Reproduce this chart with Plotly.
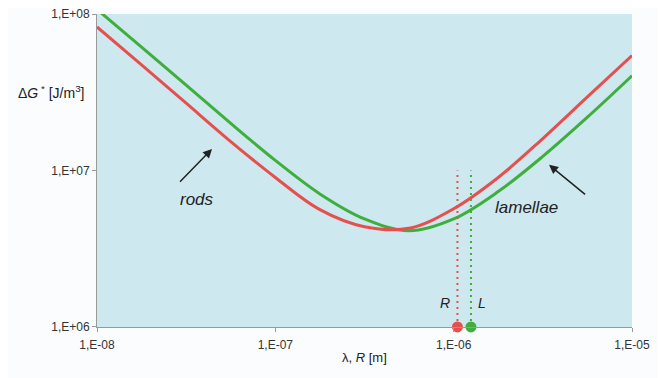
import plotly.graph_objects as go

# --- data ---
lam_rods = [1.000e-8, 1.778e-8, 3.162e-8, 5.623e-8, 1.000e-7, 1.778e-7, 3.162e-7,
            5.623e-7, 1.000e-6, 1.778e-6, 3.162e-6, 5.623e-6, 1.000e-5]
dG_rods = [8.26e7, 4.73e7, 2.69e7, 1.53e7, 9.02e6, 5.62e6, 4.37e6,
           4.27e6, 5.69e6, 9.02e6, 1.60e7, 2.95e7, 5.43e7]

lam_lam = [1.000e-8, 1.778e-8, 3.162e-8, 5.623e-8, 1.000e-7, 1.778e-7, 3.162e-7,
           5.623e-7, 1.000e-6, 1.778e-6, 3.162e-6, 5.623e-6, 1.000e-5]
dG_lam = [1.07e8, 6.14e7, 3.51e7, 2.00e7, 1.16e7, 7.08e6, 4.90e6,
          4.12e6, 4.90e6, 7.33e6, 1.23e7, 2.19e7, 4.03e7]

R_opt = 1.05e-6
L_opt = 1.25e-6
marker_y = [1e6, 1e7]

x_ticks = [1e-8, 1e-7, 1e-6, 1e-5]
x_ticktext = ["1,E-08", "1,E-07", "1,E-06", "1,E-05"]
y_ticks = [1e6, 1e7, 1e8]
y_ticktext = ["1,E+06", "1,E+07", "1,E+08"]

RED = "#e5504f"
GREEN = "#3fae3c"
FONT = "Liberation Sans, Arial, sans-serif"

fig = go.Figure()

fig.add_trace(go.Scatter(x=lam_lam, y=dG_lam, mode="lines",
                         line=dict(color=GREEN, width=3, shape="spline", smoothing=1.0),
                         hoverinfo="skip", showlegend=False))
fig.add_trace(go.Scatter(x=lam_rods, y=dG_rods, mode="lines",
                         line=dict(color=RED, width=3, shape="spline", smoothing=1.0),
                         hoverinfo="skip", showlegend=False))

# dotted optimum lines
fig.add_trace(go.Scatter(x=[R_opt, R_opt], y=marker_y, mode="lines",
                         line=dict(color=RED, width=2, dash="2px,4px"), showlegend=False))
fig.add_trace(go.Scatter(x=[L_opt, L_opt], y=marker_y, mode="lines",
                         line=dict(color=GREEN, width=2, dash="2px,4px"), showlegend=False))
# dots on the axis
fig.add_trace(go.Scatter(x=[R_opt, L_opt], y=[marker_y[0], marker_y[0]], mode="markers",
                         cliponaxis=False,
                         marker=dict(color=[RED, GREEN], size=11, line=dict(width=0)),
                         showlegend=False))

ann = []
# y title
ann.append(dict(xref="paper", yref="paper", x=0, y=0.751, xanchor="right", yanchor="middle",
                xshift=-11, showarrow=False,
                text="Δ<i>G</i><sup> *</sup> [J/m<sup>3</sup>]",
                font=dict(family=FONT, size=14, color="#222")))
# x title
ann.append(dict(xref="paper", yref="paper", x=0.5, y=-0.099, xanchor="center", yanchor="middle",
                showarrow=False, text="λ, <i>R</i> [m]",
                font=dict(family=FONT, size=13, color="#222")))
# arrows
ann.append(dict(xref="paper", yref="paper", x=0.215, y=0.569, ax=-35, ay=36,
                showarrow=True, arrowhead=2, arrowsize=1.2, arrowwidth=1.5, arrowcolor="#222",
                text=" "))
ann.append(dict(xref="paper", yref="paper", x=0.845, y=0.518, ax=39, ay=32,
                showarrow=True, arrowhead=2, arrowsize=1.2, arrowwidth=1.5, arrowcolor="#222",
                text=" "))
ann.append(dict(xref="paper", yref="paper", x=0.151, y=0.406, showarrow=False,
                text="<i>rods</i>", font=dict(family=FONT, size=17, color="#222")))
ann.append(dict(xref="paper", yref="paper", x=0.865, y=0.383, showarrow=False,
                text="<i>lamellae</i>", font=dict(family=FONT, size=17, color="#222")))
ann.append(dict(xref="paper", yref="paper", x=0.650, y=0.045, showarrow=False,
                text="<i>R</i>", font=dict(family=FONT, size=14, color="#222")))
ann.append(dict(xref="paper", yref="paper", x=0.731, y=0.045, showarrow=False,
                text="<i>L</i>", font=dict(family=FONT, size=14, color="#222")))

# page body has an 8px default margin; size the figure so it fits the 666x378 window
fig.update_layout(
    width=658, height=370,
    margin=dict(l=89, r=34, t=6, b=51, autoexpand=False),
    paper_bgcolor="#fafcfd",
    plot_bgcolor="#cde8ef",
    font=dict(family=FONT, size=12, color="#333"),
    annotations=ann,
    xaxis=dict(type="log", range=[-8, -5], tickvals=x_ticks, ticktext=x_ticktext,
               showgrid=False, zeroline=False, showline=True, linecolor="#999", linewidth=1,
               ticks="outside", ticklen=4, tickcolor="#999", ticklabelstandoff=3,
               automargin=False, ticklabeloverflow="allow",
               tickfont=dict(family=FONT, size=12, color="#333")),
    yaxis=dict(type="log", range=[5.9995, 8], tickvals=y_ticks, ticktext=y_ticktext,
               showgrid=False, zeroline=False, showline=True, linecolor="#999", linewidth=1,
               ticks="outside", ticklen=4, tickcolor="#999", automargin=False,
               ticklabeloverflow="allow",
               tickfont=dict(family=FONT, size=12, color="#333")),
)

fig.write_html("out.html")
